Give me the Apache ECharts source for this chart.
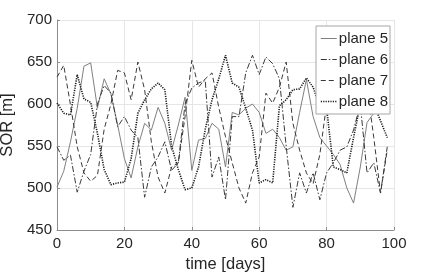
<!DOCTYPE html>
<html>
<head>
<meta charset="utf-8">
<script src="https://cdn.jsdelivr.net/npm/echarts@6/dist/echarts.min.js"></script>
<style>html,body{margin:0;padding:0;background:#fff}#c{width:436px;height:273px}</style>
</head>
<body>
<div id="c"></div>
<script>
var days = [0,2,4,6,8,10,12,14,16,18,20,22,24,26,28,30,32,34,36,38,40,42,44,46,48,50,52,54,56,58,60,62,64,66,68,70,72,74,76,78,80,82,84,86,88,90,92,94,96,98];
var plane5 = [501,520,555,595,645,649,595,630,612,575,535,512,549,577,569,596,577,545,575,608,521,557,559,577,570,525,590,587,595,600,590,565,570,560,545,549,590,629,585,560,550,540,528,500,482,525,578,589,596,620];
var plane6 = [549,533,539,495,520,540,600,622,613,573,585,569,560,489,525,537,555,521,530,600,619,625,628,513,537,486,585,585,637,658,635,656,648,630,550,477,518,494,518,486,518,530,545,549,569,600,518,530,494,549];
var plane7 = [632,646,599,549,518,508,515,570,600,640,637,605,650,617,555,513,494,525,530,585,652,620,630,637,596,561,530,500,482,518,537,613,601,620,650,577,545,518,505,540,600,625,640,600,595,590,620,560,494,545];
var plane8 = [601,589,587,635,606,602,565,522,504,506,507,535,589,605,618,625,617,550,522,498,500,525,570,605,630,658,625,620,595,569,506,510,506,598,605,617,618,631,620,596,595,525,522,518,560,600,615,600,580,560];
var xTicks = [0,20,40,60,80,100];
var yTicks = [450,500,550,600,650,700];
var names = ['plane 5','plane 6','plane 7','plane 8'];

function pairs(v){ return days.map(function(d,i){ return [d, v[i]]; }); }

var font = 'Liberation Sans, Arial, Helvetica, sans-serif';
var styles = [
  {color: '#808080', width: 1, type: 'solid'},
  {color: '#3a3a3a', width: 1, type: [6,2,1.5,2]},
  {color: '#3a3a3a', width: 1, type: [5,3]},
  {color: '#1a1a1a', width: 1.6, type: [1.2,1.2]}
];
var chart = echarts.init(document.getElementById('c'), null, {renderer:'canvas'});
chart.setOption({
  animation: false,
  backgroundColor: '#fff',
  textStyle: {fontFamily: font},
  grid: {left: 57, right: 42, top: 20, bottom: 43, containLabel: false, outerBoundsMode: 'none'},
  xAxis: {
    type: 'value', min: xTicks[0], max: xTicks[xTicks.length-1], interval: 20,
    name: 'time [days]', nameLocation: 'middle', nameGap: 24,
    nameTextStyle: {fontSize: 16.5, color: '#262626', fontFamily: font},
    axisLine: {show: true, lineStyle: {color: '#8c8c8c', width: 1}},
    axisTick: {show: true, inside: true, length: 3, lineStyle: {color: '#8c8c8c'}},
    axisLabel: {fontSize: 15, color: '#262626', margin: 6, fontFamily: font},
    splitLine: {show: true, lineStyle: {color: '#e6e6e6', width: 1}}
  },
  yAxis: {
    type: 'value', min: yTicks[0], max: yTicks[yTicks.length-1], interval: 50,
    name: 'SOR [m]', nameLocation: 'middle', nameGap: 34, nameRotate: 90,
    nameTextStyle: {fontSize: 16.5, color: '#262626', fontFamily: font},
    axisLine: {show: true, lineStyle: {color: '#8c8c8c', width: 1}},
    axisTick: {show: true, inside: true, length: 3, lineStyle: {color: '#8c8c8c'}},
    axisLabel: {fontSize: 15, color: '#262626', margin: 5, fontFamily: font},
    splitLine: {show: true, lineStyle: {color: '#e6e6e6', width: 1}}
  },
  legend: {
    orient: 'vertical', left: 316, top: 26,
    backgroundColor: '#fff', borderColor: '#a6a6a6', borderWidth: 1,
    padding: [5, 2, 5, 4], itemWidth: 16, itemHeight: 12, itemGap: 6,
    itemStyle: {opacity: 0},
    textStyle: {fontSize: 15, color: '#262626', padding: [0,0,0,-3], fontFamily: font},
    data: names.map(function(n, i){ return {name: n, itemStyle: {opacity: 0}, lineStyle: styles[i]}; })
  },
  series: names.map(function(n, i){
    var vals = [plane5, plane6, plane7, plane8][i];
    return {name: n, type: 'line', data: pairs(vals), symbol: 'none', showSymbol: false,
      lineStyle: styles[i], itemStyle: {color: styles[i].color}};
  })
});
</script>
</body>
</html>
